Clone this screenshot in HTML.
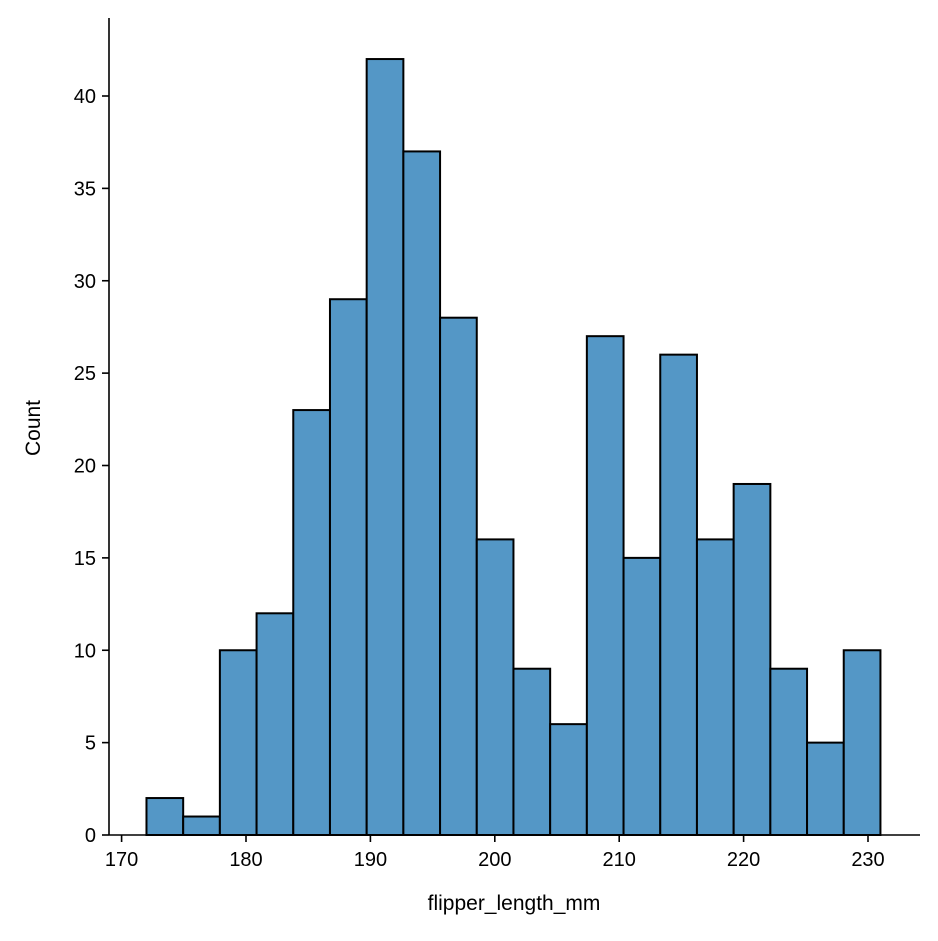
<!DOCTYPE html>
<html><head><meta charset="utf-8"><style>
html,body{margin:0;padding:0;background:#fff;}
svg text{font-family:"Liberation Sans","DejaVu Sans",sans-serif;fill:#000;}
</style></head><body>
<svg id="chart" width="938" height="936" viewBox="0 0 938 936" xmlns="http://www.w3.org/2000/svg">
<rect width="938" height="936" fill="#fff"/>
<g id="bars"></g>
<g id="axes"></g>
</svg>
<script>
const binStart = 172;
const binWidth = 2.95;
const counts = [2,1,10,12,23,29,42,37,28,16,9,6,27,15,26,16,19,9,5,10];
const xTicks = [170,180,190,200,210,220,230];
const yTicks = [0,5,10,15,20,25,30,35,40];
const xLabel = "flipper_length_mm";
const yLabel = "Count";

const NS = "http://www.w3.org/2000/svg";
const x = v => 121.6 + (v - 170) * 12.44;
const y = v => 835 - v * 18.475;
const bars = document.getElementById('bars');
const axes = document.getElementById('axes');
function mk(tag, attrs, parent){const e=document.createElementNS(NS,tag);for(const k in attrs)e.setAttribute(k,attrs[k]);parent.appendChild(e);return e;}

counts.forEach((c,i)=>{
  const x0 = x(binStart + i*binWidth), x1 = x(binStart + (i+1)*binWidth);
  const r = mk('rect',{x:x0,y:y(c),width:x1-x0,height:y(0)-y(c),fill:'#5497c6',stroke:'#000','stroke-width':2},bars);
  
  
});

const ls = mk('line',{x1:109,y1:18,x2:109,y2:835,stroke:'#000','stroke-width':1.6},axes);


const bs = mk('line',{x1:109,y1:835,x2:920,y2:835,stroke:'#000','stroke-width':1.6},axes);



xTicks.forEach(t=>{
  mk('line',{x1:x(t),y1:835,x2:x(t),y2:842,stroke:'#000','stroke-width':1.6},axes);
  const tx = mk('text',{x:x(t),y:866,'text-anchor':'middle','font-size':20},axes);
  tx.textContent = t;
  
  
});
yTicks.forEach(t=>{
  mk('line',{x1:102,y1:y(t),x2:109,y2:y(t),stroke:'#000','stroke-width':1.6},axes);
  const tx = mk('text',{x:96,y:y(t)+7,'text-anchor':'end','font-size':20},axes);
  tx.textContent = t;
  
  
});
const xl = mk('text',{x:514,y:910,'text-anchor':'middle','font-size':21},axes);
xl.textContent = xLabel;


const yl = mk('text',{x:40,y:428,'text-anchor':'middle','font-size':21,transform:'rotate(-90 40 428)'},axes);
yl.textContent = yLabel;


</script>
</body></html>
